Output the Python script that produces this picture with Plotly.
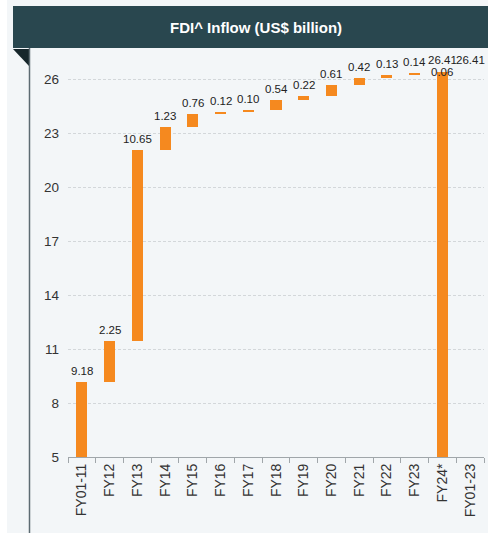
import plotly.graph_objects as go
import numpy as np

categories = ["FY01-11", "FY12", "FY13", "FY14", "FY15", "FY16", "FY17", "FY18",
              "FY19", "FY20", "FY21", "FY22", "FY23", "FY24*", "FY01-23"]
increments = [9.18, 2.25, 10.65, 1.23, 0.76, 0.12, 0.10, 0.54, 0.22, 0.61, 0.42, 0.13, 0.14, 0.06]
total_value = 26.41
total_bar_category = "FY24*"   # in the source the total bar sits in this column
total_label_categories = ["FY24*", "FY01-23"]
y_ticks = [5, 8, 11, 14, 17, 20, 23, 26]
axis_min = 5

ORANGE = "#f5891f"
PANEL = "#f3f6f8"
TEAL = "#29474f"
FONT = "Liberation Sans, Arial"

W, H = 488, 533
L, R, T, B = 68, 4, 50, 76
plot_w = W - L - R
plot_h = H - T - B
px_per_unit = 18.0
y_max = axis_min + plot_h / px_per_unit

tops = list(np.cumsum(increments))
bases = [axis_min] + tops[:-1]
inc_cats = categories[:len(increments)]

fig = go.Figure()

fig.add_trace(go.Bar(
    x=inc_cats, y=[t - b for t, b in zip(tops, bases)], base=bases,
    marker=dict(color=ORANGE, line=dict(width=0)), width=0.4,
    hoverinfo="skip", showlegend=False,
))
fig.add_trace(go.Bar(
    x=[total_bar_category], y=[total_value - axis_min], base=[axis_min],
    marker=dict(color=ORANGE, line=dict(width=0)), width=0.4,
    hoverinfo="skip", showlegend=False,
))

label_font = dict(family=FONT, size=11.5, color="#222222")
annotations = []
for c, t, v in zip(inc_cats[:-1], tops[:-1], increments[:-1]):
    annotations.append(dict(x=c, y=t, text=f"{v:.2f}", showarrow=False, yanchor="middle",
                            yshift=11, font=label_font))
annotations.append(dict(x=inc_cats[-1], y=tops[-1], text=f"{increments[-1]:.2f}", showarrow=False,
                        yanchor="middle", yshift=0, font=label_font))
for c in total_label_categories:
    annotations.append(dict(x=c, y=total_value, text=f"{total_value:.2f}", showarrow=False,
                            yanchor="middle", yshift=12, font=label_font))


def px_x(p):
    return (p - L) / plot_w


def px_y(p):
    return (H - B - p) / plot_h


annotations.append(dict(
    text="<b>FDI^ Inflow (US$ billion)</b>", xref="paper", yref="paper",
    x=px_x(256), y=px_y(27), xanchor="center", yanchor="middle", showarrow=False,
    font=dict(family=FONT, size=15, color="white"),
))

shapes = [
    dict(type="rect", xref="paper", yref="paper", x0=px_x(0), x1=px_x(7), y0=px_y(H + 10), y1=px_y(0),
         fillcolor="white", line=dict(width=0), layer="below"),
    dict(type="rect", xref="paper", yref="paper", x0=px_x(13), x1=px_x(W + 10), y0=px_y(48), y1=px_y(6),
         fillcolor=TEAL, line=dict(width=0)),
    dict(type="path", xref="paper", yref="paper",
         path=f"M {px_x(13)} {px_y(49)} L {px_x(29)} {px_y(49)} L {px_x(29)} {px_y(66)} Z",
         fillcolor="#16262b", line=dict(width=0)),
    dict(type="line", xref="paper", yref="paper", x0=px_x(29.5), x1=px_x(29.5), y0=px_y(48), y1=px_y(H + 10),
         line=dict(color="#5d6b72", width=1.5)),
]

fig.update_layout(
    width=W, height=H,
    margin=dict(l=L, r=R, t=T, b=B),
    paper_bgcolor=PANEL, plot_bgcolor=PANEL,
    bargap=0, barmode="overlay",
    shapes=shapes,
    annotations=annotations,
    xaxis=dict(
        categoryorder="array", categoryarray=categories, range=[-0.5, len(categories) - 0.5],
        tickangle=-90, tickfont=dict(family=FONT, size=14, color="#333333"),
        showline=True, linecolor="#a0a6aa", linewidth=1,
        ticks="outside", tickson="boundaries", ticklen=5, tickcolor="#a0a6aa",
        showgrid=False, zeroline=False,
    ),
    yaxis=dict(
        range=[axis_min, y_max], tickvals=y_ticks,
        tickfont=dict(family=FONT, size=13.5, color="#333333"),
        showgrid=True, gridcolor="#d3d7da", griddash="3px,2px", gridwidth=1,
        zeroline=False, showline=False, ticklabelstandoff=8,
    ),
)

fig.write_html(
    "out.html",
    config={"displayModeBar": False, "staticPlot": True},
    post_script=("document.body.style.margin='0';document.body.style.overflow='hidden';"
                 "document.documentElement.style.overflow='hidden';"
                 "document.documentElement.style.background='%s';"
                 "document.body.style.background='%s';" % (PANEL, PANEL)),
)
